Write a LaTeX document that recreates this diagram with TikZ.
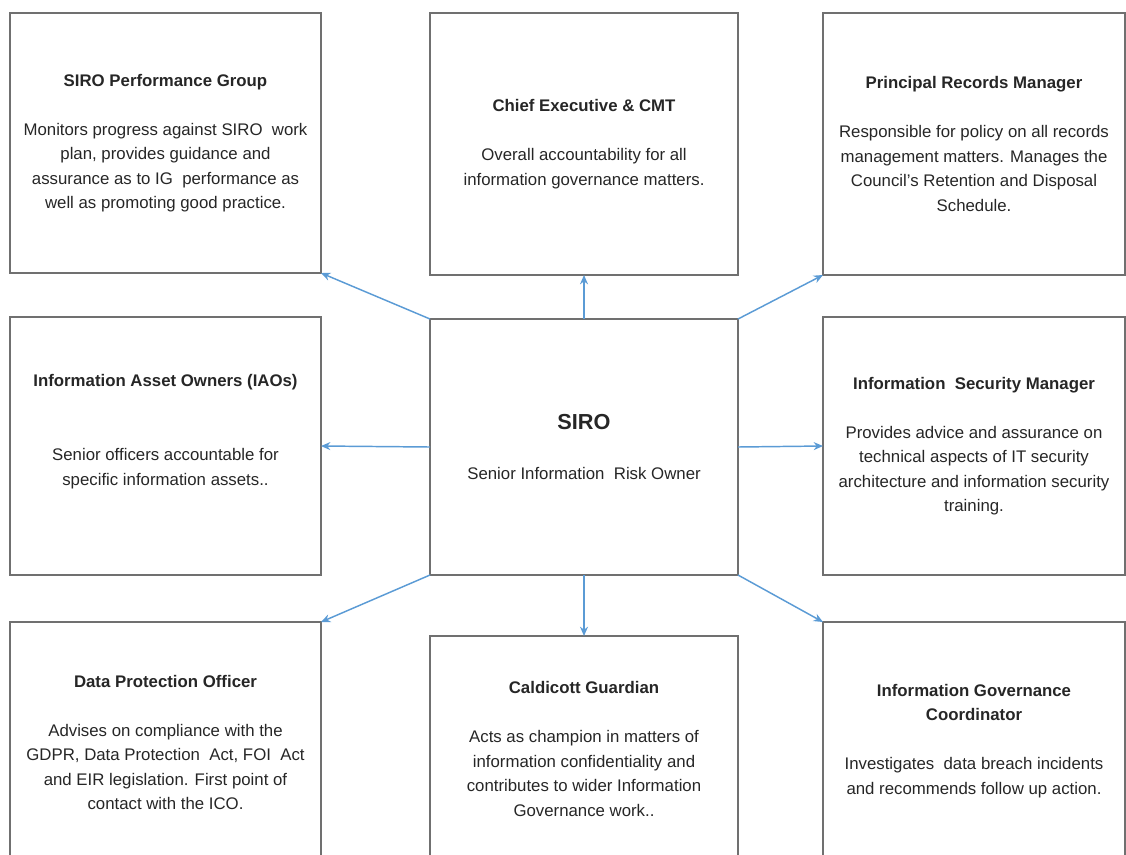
\documentclass[tikz,border=0pt]{standalone}
\usepackage{fontspec}
\setmainfont{Liberation Sans}
\usetikzlibrary{arrows.meta,positioning}
\definecolor{linkblue}{RGB}{91,155,213}
\definecolor{boxgray}{RGB}{112,112,112}
\tikzset{
  org/role/.style={draw=boxgray, line width=0.9pt, anchor=north west, outer sep=0pt, inner sep=0pt,
    align=center, text=black!85, font=\fontsize{12.6}{18.4}\selectfont},
  org/head/.style={org/role, font=\fontsize{12.6}{18.4}\selectfont},
  org/link/.style={draw=linkblue, line width=1.1pt, -{Stealth[length=7pt,width=6pt]}}
}
\newcommand{\rolegap}{18.4pt}

\begin{document}
\begin{tikzpicture}[x=0.75pt, y=-0.75pt]
  \path[use as bounding box, clip] (0,0) rectangle (1126,854);

  % top row
  \node[org/role, minimum width=233.25pt, minimum height=195pt] (spg) at (10,13)
    {\textbf{SIRO Performance Group}\\[\rolegap]
     Monitors progress against SIRO\ \ work\\
     plan, provides guidance and\\
     assurance as to IG\ \ performance as\\
     well as promoting good practice.};
  \node[org/role, minimum width=231pt, minimum height=196.5pt] (ceo) at (430,13)
    {\textbf{Chief Executive \& CMT}\\[\rolegap]
     Overall accountability for all\\
     information governance matters.};
  \node[org/role, minimum width=226.5pt, minimum height=196.5pt] (prm) at (823,13)
    {\textbf{Principal Records Manager}\\[\rolegap]
     Responsible for policy on all records\\
     management matters. Manages the\\
     Council's Retention and Disposal\\
     Schedule.};

  % middle row
  \node[org/role, minimum width=233.25pt, minimum height=193.5pt] (iao) at (10,317)
    {\textbf{Information Asset Owners (IAOs)}\\[37pt]
     Senior officers accountable for\\
     specific information assets..\\
     \strut};
  \node[org/head, minimum width=231pt, minimum height=192pt] (siro) at (430,319)
    {{\fontsize{16.3}{20}\selectfont\bfseries SIRO}\\[19pt]
     Senior Information\ \ Risk Owner};
  \node[org/role, minimum width=226.5pt, minimum height=193.5pt] (ism) at (823,317)
    {\textbf{Information\ \ Security Manager}\\[\rolegap]
     Provides advice and assurance on\\
     technical aspects of IT security\\
     architecture and information security\\
     training.};

  % bottom row (runs off the page)
  \node[org/role, minimum width=233.25pt, minimum height=180.75pt] (dpo) at (10,622)
    {\textbf{Data Protection Officer}\\[\rolegap]
     Advises on compliance with the\\
     GDPR, Data Protection\ \ Act, FOI\ \ Act\\
     and EIR legislation. First point of\\
     contact with the ICO.};
  \node[org/role, minimum width=231pt, minimum height=169.5pt] (cg) at (430,636)
    {\textbf{Caldicott Guardian}\\[\rolegap]
     Acts as champion in matters of\\
     information confidentiality and\\
     contributes to wider Information\\
     Governance work..};
  \node[org/role, minimum width=226.5pt, minimum height=178.5pt] (igc) at (823,622)
    {\textbf{Information Governance}\\
     \textbf{Coordinator}\\[\rolegap]
     Investigates\ \ data breach incidents\\
     and recommends follow up action.};

  % links from the SIRO
  \draw[org/link] (siro.north west) -- (spg.south east);
  \draw[org/link] (siro.north) -- (ceo.south);
  \draw[org/link] (siro.north east) -- (prm.south west);
  \draw[org/link] (siro.west) -- (iao.east);
  \draw[org/link] (siro.east) -- (ism.west);
  \draw[org/link] (siro.south west) -- (dpo.north east);
  \draw[org/link] (siro.south) -- (cg.north);
  \draw[org/link] (siro.south east) -- (igc.north west);
\end{tikzpicture}
\end{document}
